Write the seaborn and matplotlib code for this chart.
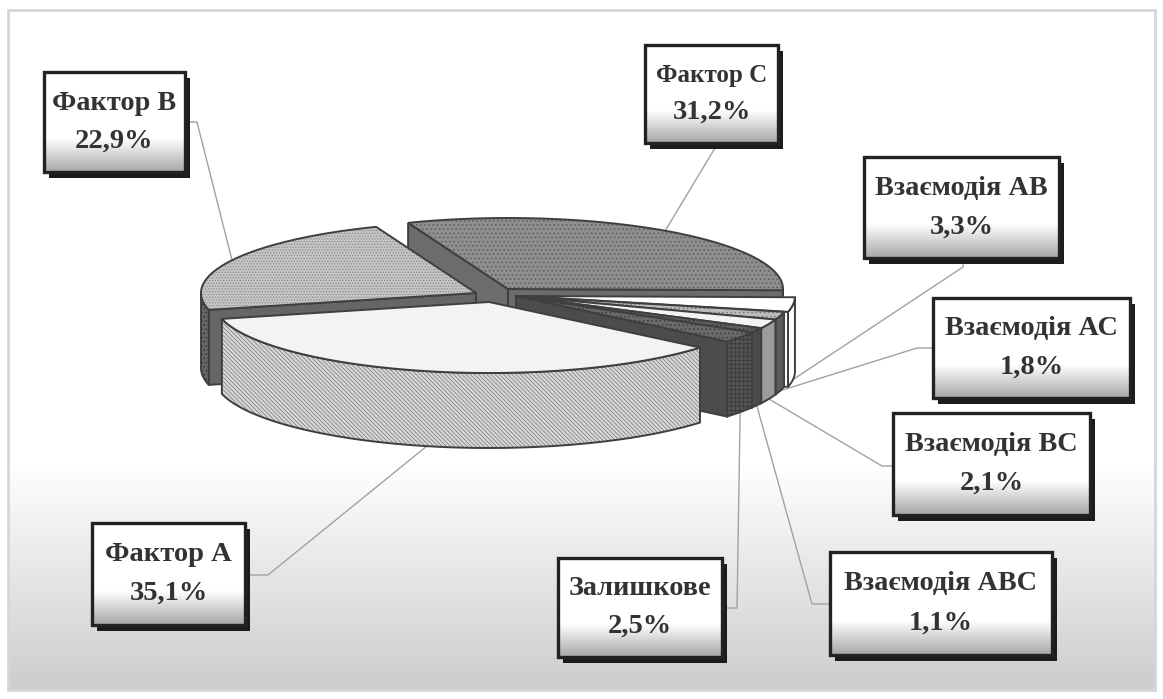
import numpy as np
import matplotlib
matplotlib.use("Agg")
import matplotlib.pyplot as plt
from matplotlib.patches import Polygon, Rectangle
import seaborn as sns

# Shares of the factors in the overall variance, clockwise from the top
names = ["Фактор С", "Взаємодія АВ", "Взаємодія АС", "Взаємодія ВС",
         "Взаємодія АВС", "Залишкове", "Фактор А", "Фактор В"]
shares = [31.2, 3.3, 1.8, 2.1, 1.1, 2.5, 35.1, 22.9]
share_labels = ["31,2%", "3,3%", "1,8%", "2,1%", "1,1%", "2,5%", "35,1%", "22,9%"]

sns.set_theme(style="white", rc={"hatch.linewidth": 0.6})
plt.rcParams["font.family"] = ["Liberation Serif", "DejaVu Serif"]

W, H = 1163, 699
fig = plt.figure(figsize=(W / 100, H / 100), dpi=100, facecolor="white")
ax = fig.add_axes([0, 0, 1, 1])
ax.set_xlim(0, W)
ax.set_ylim(H, 0)
ax.axis("off")

# Panel with a grey fade towards the bottom edge
panel_cmap = sns.blend_palette(["#ffffff", "#ffffff", "#ffffff", "#cdcdcd"], as_cmap=True)
ramp = np.linspace(0, 1, 256).reshape(-1, 1)
ax.imshow(ramp, cmap=panel_cmap, extent=(8, 1155, 690, 10), aspect="auto", zorder=0)
ax.add_patch(Rectangle((8, 10), 1147, 680, fill=False, ec="#d6d6d6", lw=2, zorder=1))
ax.set_xlim(0, W)
ax.set_ylim(H, 0)

# Projection of the disc
RX, RY, DEPTH = 275, 71, 75
START = -21.3
centres = [(508, 289), (520, 296), (516, 296), (516, 296),
           (516, 296), (516, 296), (489, 302), (476, 293)]
top_colours = ["#8e8e8e", "#ffffff", "#bdbdbd", "#f4f4f4", "#5e5e5e", "#6a6a6a", "#f3f3f3", "#c6c6c6"]
top_hatches = ["....", "", "....", "", "....", "....", "", "......"]
top_hatch_ink = ["#5c5c5c", "#ffffff", "#777777", "#ffffff", "#3c3c3c", "#3c3c3c", "#ffffff", "#8a8a8a"]
rim_colours = ["#8e8e8e", "#ffffff", "#5a5a5a", "#9c9c9c", "#4a4a4a", "#555555", "#d8d8d8", "#666666"]
rim_hatches = ["", "", "", "", "", "++++", "\\\\\\\\\\\\\\\\", "...."]
rim_hatch_ink = ["#555555", "#ffffff", "#444444", "#888888", "#333333", "#3a3a3a", "#858585", "#333333"]
face_colours = ["#6c6c6c", "#ffffff", "#555555", "#8a8a8a", "#444444", "#4c4c4c", "#d8d8d8", "#666666"]
OUTLINE = "#3f3f3f"

edges = START + np.cumsum([0] + shares) * 3.6


def rim_xy(theta, centre):
    rad = np.radians(theta)
    return centre[0] + RX * np.sin(rad), centre[1] - RY * np.cos(rad)


def shape(points, colour, hatch, ink, z):
    ax.add_patch(Polygon(points, closed=True, fc=colour, ec=ink, hatch=hatch, lw=0, zorder=z))
    ax.add_patch(Polygon(points, closed=True, fill=False, ec=OUTLINE, lw=1.4, zorder=z))


# Callout boxes: left, top, right, bottom, elbow point of the leader, name size
boxes = {
    "Фактор С": (645, 45, 778, 143, (718, 143), 18.0),
    "Взаємодія АВ": (864, 157, 1059, 258, (963, 267), 20.3),
    "Взаємодія АС": (933, 298, 1130, 398, (917, 348), 20.3),
    "Взаємодія ВС": (893, 413, 1090, 515, (882, 466), 20.3),
    "Взаємодія АВС": (830, 552, 1052, 655, (812, 604), 20.3),
    "Залишкове": (558, 558, 722, 657, (737, 608), 20.3),
    "Фактор А": (92, 523, 245, 625, (268, 575), 20.5),
    "Фактор В": (44, 72, 185, 172, (197, 122), 20.3),
}

# Leader lines run from the rim of each slice to its callout
for i, name in enumerate(names):
    mid = (edges[i] + edges[i + 1]) / 2
    x0, y0 = rim_xy(mid, centres[i])
    if name not in ("Фактор С", "Фактор В"):
        y0 += DEPTH
    left, top, right, bottom, elbow, _ = boxes[name]
    exit_x = np.clip(elbow[0], left, right)
    exit_y = np.clip(elbow[1], top, bottom)
    ax.plot([x0, elbow[0], exit_x], [y0, elbow[1], exit_y], color="#a2a2a2", lw=1.0, zorder=2)

# Slices in back-to-front order so that nearer ones overlap the others
for z, i in enumerate([0, 1, 2, 3, 4, 5, 7, 6]):
    base = 3 + z * 3
    c = centres[i]
    arc = np.linspace(edges[i], edges[i + 1], 80)
    xs, ys = rim_xy(arc, c)
    top_pts = np.column_stack([xs, ys])

    # Radial cut faces: only those turned towards the viewer
    for theta, sign in ((edges[i], -1), (edges[i + 1], 1)):
        if sign * np.sin(np.radians(theta)) > 0:
            ex, ey = rim_xy(theta, c)
            face = [(c[0], c[1]), (ex, ey), (ex, ey + DEPTH), (c[0], c[1] + DEPTH)]
            shape(face, face_colours[i], "", face_colours[i], base)

    # Outer wall: only the part of the arc that faces the viewer
    front = np.cos(np.radians(arc)) <= 0.02
    if front.any():
        fx, fy = xs[front], ys[front]
        wall = np.vstack([np.column_stack([fx, fy]),
                          np.column_stack([fx[::-1], fy[::-1] + DEPTH])])
        shape(wall, rim_colours[i], rim_hatches[i], rim_hatch_ink[i], base + 1)

    # Top surface
    shape(np.vstack([[c], top_pts]), top_colours[i], top_hatches[i], top_hatch_ink[i], base + 2)

# Callout boxes with drop shadow and inner fade
box_cmap = sns.blend_palette(["#ffffff", "#ffffff", "#ffffff", "#a6a6a6"], as_cmap=True)
for i, name in enumerate(names):
    left, top, right, bottom, _, size = boxes[name]
    ax.add_patch(Rectangle((left + 5, top + 6), right - left, bottom - top, fc="#1c1c1c", ec="none", zorder=40))
    ax.imshow(ramp, cmap=box_cmap, extent=(left, right, bottom, top), aspect="auto", zorder=41)
    ax.add_patch(Rectangle((left, top), right - left, bottom - top, fill=False, ec="#222222", lw=2.4, zorder=42))
    mid_x = (left + right) / 2
    ax.text(mid_x, top + 0.31 * (bottom - top), name, ha="center", va="center",
            fontsize=size, fontweight="bold", color="#333333", zorder=43)
    ax.text(mid_x, top + 0.69 * (bottom - top), share_labels[i], ha="center", va="center",
            fontsize=20.5, fontweight="bold", color="#333333", zorder=43)
ax.set_xlim(0, W)
ax.set_ylim(H, 0)

fig.savefig("out.png", dpi=100)
